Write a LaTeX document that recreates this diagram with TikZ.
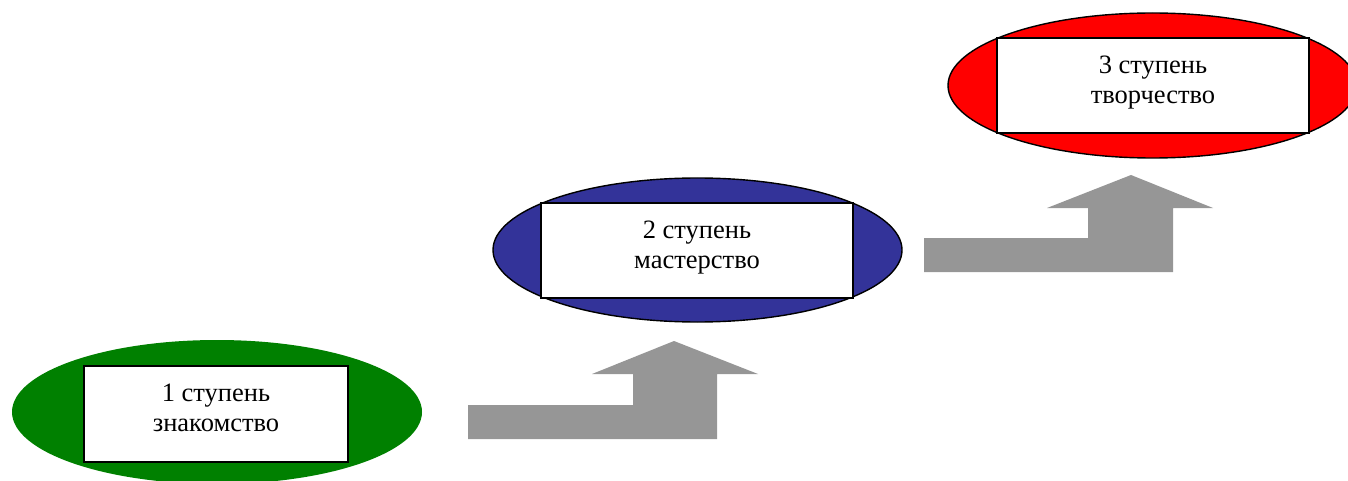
\documentclass[tikz,border=0pt]{standalone}
\usepackage{fontspec}
\setmainfont{Liberation Serif}
\usepackage{xcolor}
\usepackage{tikz}
\usetikzlibrary{positioning, shapes.geometric}

\definecolor{stepgreen}{HTML}{008000}
\definecolor{stepblue}{HTML}{333399}
\definecolor{stepred}{HTML}{FF0000}
\definecolor{stepgray}{HTML}{969696}

\begin{document}
\begin{tikzpicture}[x=1pt, y=-1pt, node distance = 19pt]
		\tikzstyle{oval} = [ellipse, inner sep=0pt, minimum width=409pt, minimum height=144pt]
		\tikzstyle{stage} = [rectangle, draw=black, fill=white, line width=1.5pt, inner sep=0pt, minimum width=312pt, minimum height=95pt]
		\tikzstyle{stagetext} = [inner sep=0pt, align=center, font=\fontsize{26.5}{30}\selectfont]
		\tikzstyle{uparrow} = [fill=stepgray]
		
		\useasboundingbox (0,0) rectangle (1348,481);
		
		% ovals
		\node[oval, fill=stepgreen, minimum width=410pt] 	at (217, 412) 	(e1) 	{};
		\node[oval, fill=stepblue, draw=black, line width=1.4pt] 	at (697.5, 250) 	(e2) 	{};
		\node[oval, fill=stepred, draw=black, line width=1.4pt, minimum height=145pt] 	at (1152.5, 85.5) 	(e3) 	{};
		
		% boxes
		\node[stage, minimum width=264pt, minimum height=96pt] 	at (216, 414) 	(s1) 	{};
		\node[stage] 	at (697, 250.5) 	(s2) 	{};
		\node[stage] 	at (1153, 85.5) 	(s3) 	{};
		
		\node[stagetext, below=of s1.north] 	(t1) 	{1 ступень\\знакомство};
		\node[stagetext, below=of s2.north] 	(t2) 	{2 ступень\\мастерство};
		\node[stagetext, below=of s3.north] 	(t3) 	{3 ступень\\творчество};
		
		% arrows
		\fill[uparrow] (468, 405) -- (633, 405) -- (633, 374) -- (592, 374) -- (674, 341)
			-- (758, 374) -- (717, 374) -- (717, 439) -- (468, 439) -- cycle;
		\fill[uparrow] (924, 238) -- (1088, 238) -- (1088, 208) -- (1047, 208) -- (1131, 175)
			-- (1213, 208) -- (1173, 208) -- (1173, 272) -- (924, 272) -- cycle;
	\end{tikzpicture}
\end{document}
